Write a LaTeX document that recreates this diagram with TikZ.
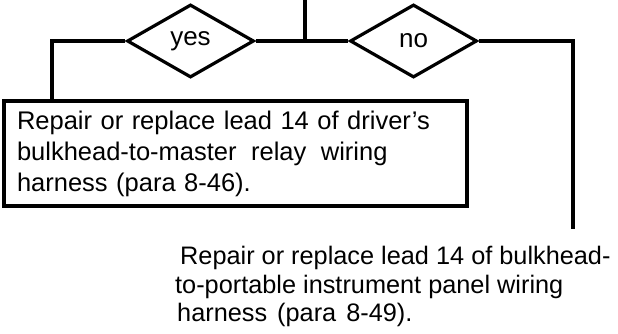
\documentclass[tikz,border=0pt]{standalone}
\usepackage{fontspec}
\setmainfont{Liberation Sans}
\usetikzlibrary{shapes.geometric, positioning}
\tikzset{
  dec/.style={diamond, draw=black, line width=3.2pt, inner sep=0pt,
              minimum width=127pt, minimum height=73pt,
              font=\fontsize{26}{30}\selectfont},
  proc/.style={rectangle, draw=black, line width=3.4pt, inner xsep=13pt,
               minimum width=463pt, minimum height=105pt, text width=437pt,
               align=left, font=\fontsize{25.5}{31}\selectfont},
  note/.style={inner sep=0pt, align=left, font=\fontsize{25.3}{28.5}\selectfont},
  fl/.style={draw=black, line width=3.2pt}
}
\begin{document}
\begin{tikzpicture}[x=1pt, y=-1pt]
\useasboundingbox (0,0) rectangle (618,334);
\node[dec] (yes) at (190.5,41) {yes};
\node[dec] (no) at (413.5,41) {no};
\node[proc] (rep1) at (235.5,153.5)
  {Repair or replace lead 14 of driver’s\\
   bulkhead-to-master\hspace{6pt} relay\hspace{6pt} wiring\\
   harness (para 8-46).};
\node[note, anchor=north west] (rep2) at (175,246)
  {\hspace{5pt}Repair or replace lead 14 of bulkhead-\\
   to-portable instrument panel wiring\\
   \hspace{2pt}harness\hspace{3pt} (para\hspace{3pt} 8-49).};

\coordinate (top) at (305,0);
\coordinate (split) at (305,41);
\coordinate (dropL) at (52,101);
\coordinate (dropR) at (573,229);

\draw[fl] (top) -- (split);
\draw[fl] (yes.east) -- (no.west);
\draw[fl] (yes.west) -| (dropL);
\draw[fl] (no.east) -| (dropR);
\end{tikzpicture}
\end{document}
